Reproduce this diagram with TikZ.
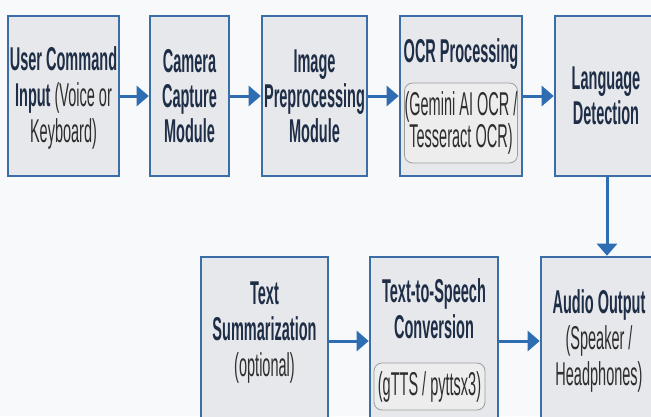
\documentclass[tikz,border=0pt]{standalone}
\usepackage{fontspec}
\setmainfont{Liberation Sans}[FakeStretch=0.44]
\usetikzlibrary{arrows.meta}
\definecolor{bluebd}{HTML}{3B6EA6}
\definecolor{boxfill}{HTML}{E7E8EB}
\definecolor{arrowc}{HTML}{2F6DB2}
\definecolor{titlec}{HTML}{1F2E47}
\definecolor{bodyc}{HTML}{2E2E2E}
\definecolor{innerbd}{HTML}{9C9C9C}
\definecolor{innerfill}{HTML}{EDEDED}
\definecolor{bgc}{HTML}{F8F9FA}
\begin{document}
\begin{tikzpicture}[x=1pt,y=1pt,
 blk/.style={draw=bluebd, line width=2.6pt, fill=boxfill, inner sep=0pt, align=center, text=titlec,
   font=\fontsize{33}{35}\selectfont\bfseries},
 innerbox/.style={draw=innerbd, line width=0.8pt, fill=innerfill, rounded corners=8pt, inner sep=0pt,
   align=center, text=bodyc, font=\fontsize{33}{32}\selectfont},
 lbl/.style={align=center, inner sep=0pt, text=titlec, font=\fontsize{33}{36}\selectfont\bfseries},
 flow/.style={draw=arrowc, line width=3pt, -{Triangle[length=12pt,width=20pt]}},
]
\useasboundingbox (0,0) rectangle (651,-416);
\fill[bgc] (0,0) rectangle (651,-416);
\begin{scope}
\clip (0,0) rectangle (651,-416);
% top row
\node[blk, minimum width=111, minimum height=160] (b1) at (63.5,-96) {};
\node[lbl] (t1) at (63.5,-98) {User Command\\Input {\mdseries\color{bodyc}(Voice or}\\{\mdseries\color{bodyc}Keyboard)}};
\node[blk, minimum width=79, minimum height=160] (b2) at (189.5,-96) {Camera\\Capture\\Module};
\node[blk, minimum width=105, minimum height=160] (b3) at (314.5,-96) {Image\\Preprocessing\\Module};
\node[blk, minimum width=122, minimum height=160] (b4) at (461,-96) {};
\node[lbl, anchor=base] (t4) at (461,-62) {OCR Processing};
\node[innerbox, minimum width=108, minimum height=80] (i4) at (461,-123) {(Gemini AI OCR /\\Tesseract OCR)};
\node[blk, minimum width=102, minimum height=160] (b5) at (606,-96) {Language\\Detection};
% bottom row
\node[blk, minimum width=127, minimum height=168] (b6) at (264.5,-341) {};
\node[lbl] (t6) at (264.5,-332.5) {Text\\Summarization\\{\mdseries\color{bodyc}(optional)}};
\node[blk, minimum width=128, minimum height=168] (b7) at (434,-341) {};
\node[lbl] (t7) at (434,-309) {Text-to-Speech\\Conversion};
\node[innerbox, minimum width=111, minimum height=47] (i7) at (429.5,-386.5) {(gTTS / pyttsx3)};
\node[blk, minimum width=120, minimum height=168] (b8) at (601,-341) {};
\node[lbl] (t8) at (599,-341) {Audio Output\\{\mdseries\color{bodyc}(Speaker /}\\{\mdseries\color{bodyc}Headphones)}};
% connectors
\draw[flow] (b1.east) -- (b2.west);
\draw[flow] (b2.east) -- (b3.west);
\draw[flow] (b3.east) -- (b4.west);
\draw[flow] (b4.east) -- (b5.west);
\coordinate (vx) at (607,0);
\draw[flow] (vx |- b5.south) -- (vx |- b8.north);
\draw[flow] (b6.east) -- (b7.west);
\draw[flow] (b7.east) -- (b8.west);
\end{scope}
\end{tikzpicture}
\end{document}
